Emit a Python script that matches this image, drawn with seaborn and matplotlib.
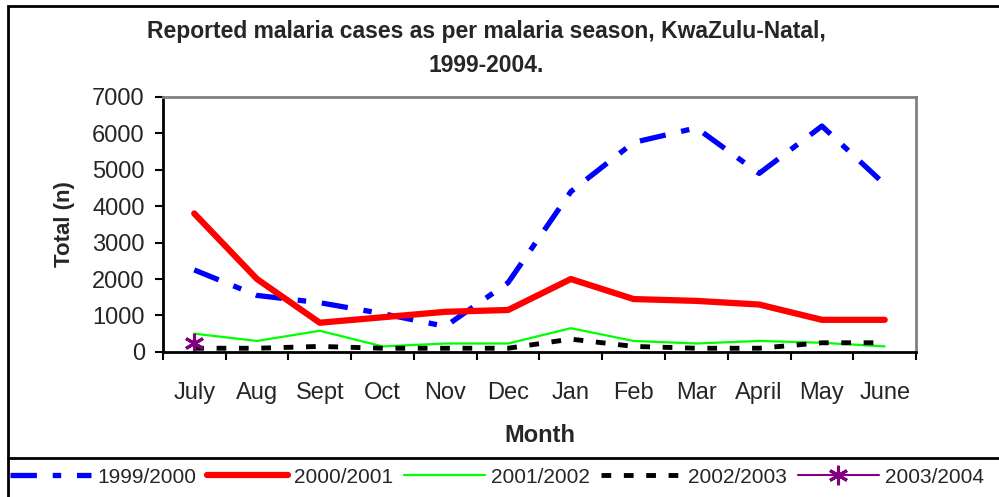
import matplotlib
matplotlib.use("Agg")
import matplotlib.pyplot as plt
from matplotlib.lines import Line2D
from matplotlib.patches import Rectangle
import seaborn as sns
import pandas as pd

# MONTHS OF THE MALARIA SEASON (JULY TO JUNE)
months = ['July', 'Aug', 'Sept', 'Oct', 'Nov', 'Dec',
          'Jan', 'Feb', 'Mar', 'April', 'May', 'June']
# REPORTED CASES PER SEASON
s1999 = [2250, 1550, 1350, 1050, 700, 1900, 4400, 5750, 6150, 4900, 6200, 4600]
s2000 = [3800, 2000, 800, 950, 1100, 1150, 2000, 1450, 1400, 1300, 880, 880]
s2001 = [500, 300, 580, 150, 230, 230, 650, 300, 230, 300, 250, 150]
s2002 = [100, 100, 150, 100, 100, 100, 350, 150, 100, 100, 250, 250]
s2003 = [250]
seasons = ['1999/2000', '2000/2001', '2001/2002', '2002/2003', '2003/2004']

sns.set_style("white")
plt.rcParams['font.family'] = ['Liberation Sans', 'DejaVu Sans']

fig = plt.figure(figsize=(9.99, 4.97), dpi=100)
ax = fig.add_axes([0.163, 0.292, 0.754, 0.513])

d1 = pd.DataFrame({'m': months, 'n': s1999})
d2 = pd.DataFrame({'m': months, 'n': s2000})
d3 = pd.DataFrame({'m': months, 'n': s2001})
d4 = pd.DataFrame({'m': months, 'n': s2002})
d5 = pd.DataFrame({'m': months[:1], 'n': s2003})

blue = dict(color='#0000ff', lw=3.8, dashes=(5, 3, 1.6, 3))
red = dict(color='#ff0000', lw=4.5, solid_capstyle='round')
green = dict(color='#00ff00', lw=1.6)
black = dict(color='black', lw=3.5, dashes=(2, 2.6))
purple = dict(color='#800080', lw=1.5, marker=(6, 2, 0), markersize=14,
              markeredgewidth=2.2, markeredgecolor='#800080')

sns.lineplot(data=d1, x='m', y='n', ax=ax, **blue)
sns.lineplot(data=d2, x='m', y='n', ax=ax, **red)
sns.lineplot(data=d3, x='m', y='n', ax=ax, **green)
sns.lineplot(data=d4, x='m', y='n', ax=ax, **black)
sns.lineplot(data=d5, x='m', y='n', ax=ax, **purple)

ax.set_xlim(-0.5, 11.5)
ax.set_ylim(0, 7000)
ax.set_yticks(range(0, 7001, 1000))
ax.set_xticks(range(12))
ax.set_xticklabels(months)
ax.set_xticks([i - 0.5 for i in range(13)], minor=True)
ax.tick_params(axis='x', which='major', length=0, pad=22, labelsize=17)
ax.tick_params(axis='x', which='minor', length=6, width=1.5, direction='out', color='black')
ax.tick_params(axis='y', length=6, width=1.5, direction='out', color='black', pad=7, labelsize=17)
ax.tick_params(bottom=True, left=True, which='both')
for s in ['left', 'bottom']:
    ax.spines[s].set_color('black')
    ax.spines[s].set_linewidth(2)
for s in ['top', 'right']:
    ax.spines[s].set_color('#808080')
    ax.spines[s].set_linewidth(2)
ax.set_xlabel('Month', fontsize=17, fontweight='bold', labelpad=14)
ax.set_ylabel('Total (n)', fontsize=16, fontweight='bold', labelpad=12)

fig.text(0.487, 0.902, 'Reported malaria cases as per malaria season, KwaZulu-Natal,\n1999-2004.',
         ha='center', va='center', fontsize=16.5, fontweight='bold', linespacing=1.6)

# CHART FRAME AND LEGEND SEPARATOR
fig.add_artist(Rectangle((0.008, -0.1), 1.1, 1.088, transform=fig.transFigure,
                         fill=False, edgecolor='black', lw=2))
fig.add_artist(Line2D([0.008, 1.0], [0.0785, 0.0785], transform=fig.transFigure,
                      color='black', lw=2))

handles = [Line2D([], [], **blue), Line2D([], [], **red), Line2D([], [], **green),
           Line2D([], [], **black), Line2D([], [], **purple)]
fig.legend(handles, seasons, loc='center left', bbox_to_anchor=(0.01, 0.04), ncol=5,
           frameon=False, fontsize=15, handlelength=3.9, handletextpad=0.3,
           columnspacing=0.5, borderaxespad=0, borderpad=0)

fig.savefig('out.png', dpi=100)
